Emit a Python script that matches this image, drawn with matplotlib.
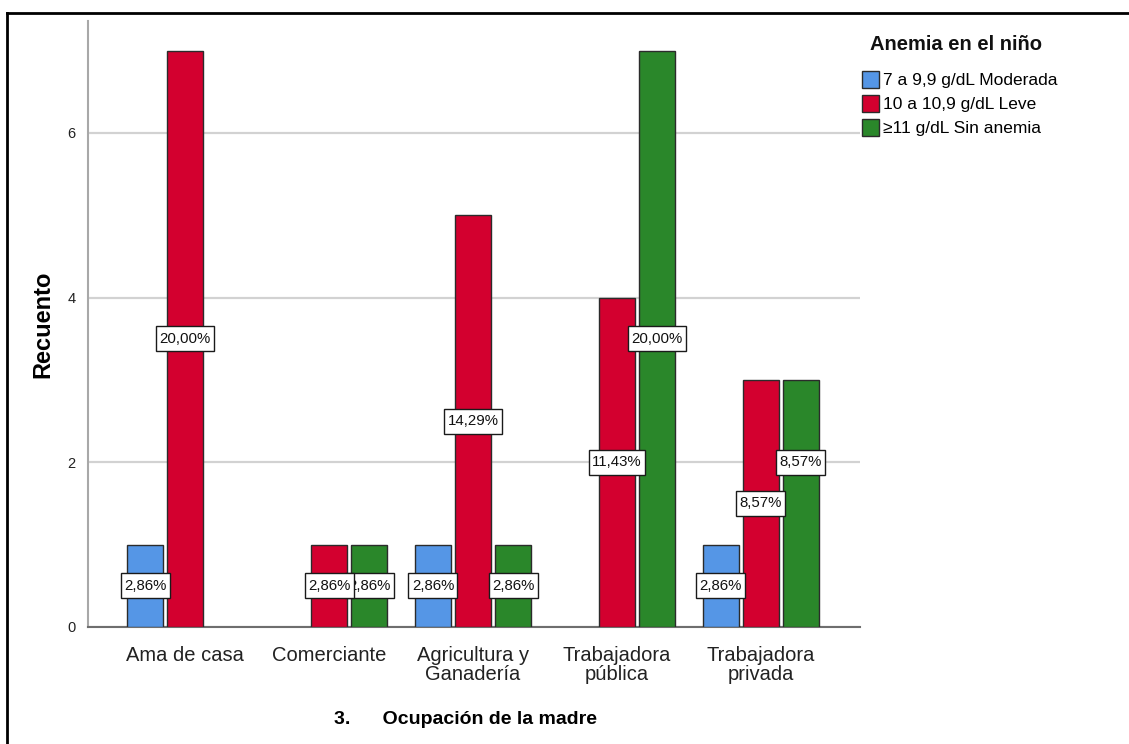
import matplotlib
matplotlib.use("Agg")
import matplotlib.pyplot as plt
from matplotlib.patches import Patch
from matplotlib.lines import Line2D
from matplotlib.path import Path
import numpy as np

plt.rcParams['font.family'] = ['Liberation Sans', 'DejaVu Sans']

# Counts of children per mother's occupation and anemia level
categories = ["Ama de casa", "Comerciante", "Agricultura y\nGanadería",
              "Trabajadora\npública", "Trabajadora\nprivada"]
series_names = ["7 a 9,9 g/dL Moderada", "10 a 10,9 g/dL Leve", "≥11 g/dL Sin anemia"]
moderada = [1, 0, 1, 0, 1]
leve = [7, 1, 5, 4, 3]
sin_anemia = [0, 1, 1, 7, 3]
series_values = [moderada, leve, sin_anemia]
total = sum(sum(s) for s in series_values)

yticks = [0, 2, 4, 6]

colors = ["#5596E6", "#D3002F", "#2A872A"]

# label nudges (category index, series index) -> shift in count units
label_nudge = {(4, 2): 0.5}


def label_box(x0, y0, width, height, mutation_size):
    """Rectangle with separate horizontal and vertical padding."""
    padx = 0.22 * mutation_size
    pady = 0.36 * mutation_size
    x0, y0 = x0 - padx, y0 - pady
    x1, y1 = x0 + width + 2 * padx, y0 + height + 2 * pady
    return Path([(x0, y0), (x1, y0), (x1, y1), (x0, y1), (x0, y0)],
                closed=True)


fig = plt.figure(figsize=(11.29, 7.44), dpi=100)
ax = fig.add_axes([88 / 1129, 117 / 744, (860 - 88) / 1129, (627 - 21) / 744])

x = np.arange(len(categories))
width = 0.25
step = 0.278

for si, (vals, col) in enumerate(zip(series_values, colors)):
    offs = (si - 1) * step
    for ci, v in enumerate(vals):
        if v <= 0:
            continue
        ax.bar(x[ci] + offs, v, width=width, color=col, edgecolor="#2b2b2b",
               linewidth=1.0, zorder=3)
        pct = f"{v / total * 100:.2f}%".replace(".", ",")
        ypos = v / 2 + label_nudge.get((ci, si), 0)
        ax.text(x[ci] + offs, ypos, pct, ha="center", va="center",
                fontsize=10.8, color="#111111", zorder=10 - si,
                bbox=dict(boxstyle=label_box, facecolor="white",
                          edgecolor="#1a1a1a", linewidth=1.0))

ax.set_xlim(-0.674, 4.688)
ax.set_ylim(0, 7.36)
ax.set_yticks(yticks)
ax.set_yticklabels([str(t) for t in yticks], fontsize=10.5, color="#222222")
ax.set_xticks(x)
ax.set_xticklabels(categories, fontsize=14.5, color="#222222", linespacing=0.95)
ax.tick_params(axis="y", length=0, pad=9)
ax.tick_params(axis="x", length=0, pad=14)

ax.yaxis.grid(True, color="#d2d2d2", linewidth=1.6, zorder=0)
ax.set_axisbelow(True)
for s in ["top", "right"]:
    ax.spines[s].set_visible(False)
ax.spines["left"].set_color("#a8a8a8")
ax.spines["left"].set_linewidth(1.5)
ax.spines["bottom"].set_color("#6e6e6e")
ax.spines["bottom"].set_linewidth(1.5)

ax.set_ylabel("Recuento", fontsize=17, fontweight="bold", labelpad=9)
ax.set_xlabel("3.      Ocupación de la madre", fontsize=14, fontweight="bold",
              labelpad=20, x=(465 - 88) / 772)

# legend: title as its own text, entries below it
fig.text(870 / 1129, 1 - 45 / 744, "Anemia en el niño", fontsize=14.5,
         fontweight="bold", ha="left", va="center", color="#111111")
handles = [Patch(facecolor=c, edgecolor="#2b2b2b", linewidth=1.0) for c in colors]
leg = fig.legend(handles, series_names, loc="upper left",
                 bbox_to_anchor=(862 / 1129, 1 - 71 / 744), frameon=False,
                 fontsize=12.5, handlelength=0.98, handleheight=1.1,
                 handletextpad=0.25, labelspacing=0.39, borderaxespad=0,
                 borderpad=0)

# outer frame lines
fig.add_artist(Line2D([7 / 1129, 7 / 1129], [0, 1 - 13 / 744], color="black",
                      linewidth=2, transform=fig.transFigure))
fig.add_artist(Line2D([7 / 1129, 1], [1 - 13 / 744, 1 - 13 / 744], color="black",
                      linewidth=2, transform=fig.transFigure))

fig.savefig("out.png", dpi=100)
